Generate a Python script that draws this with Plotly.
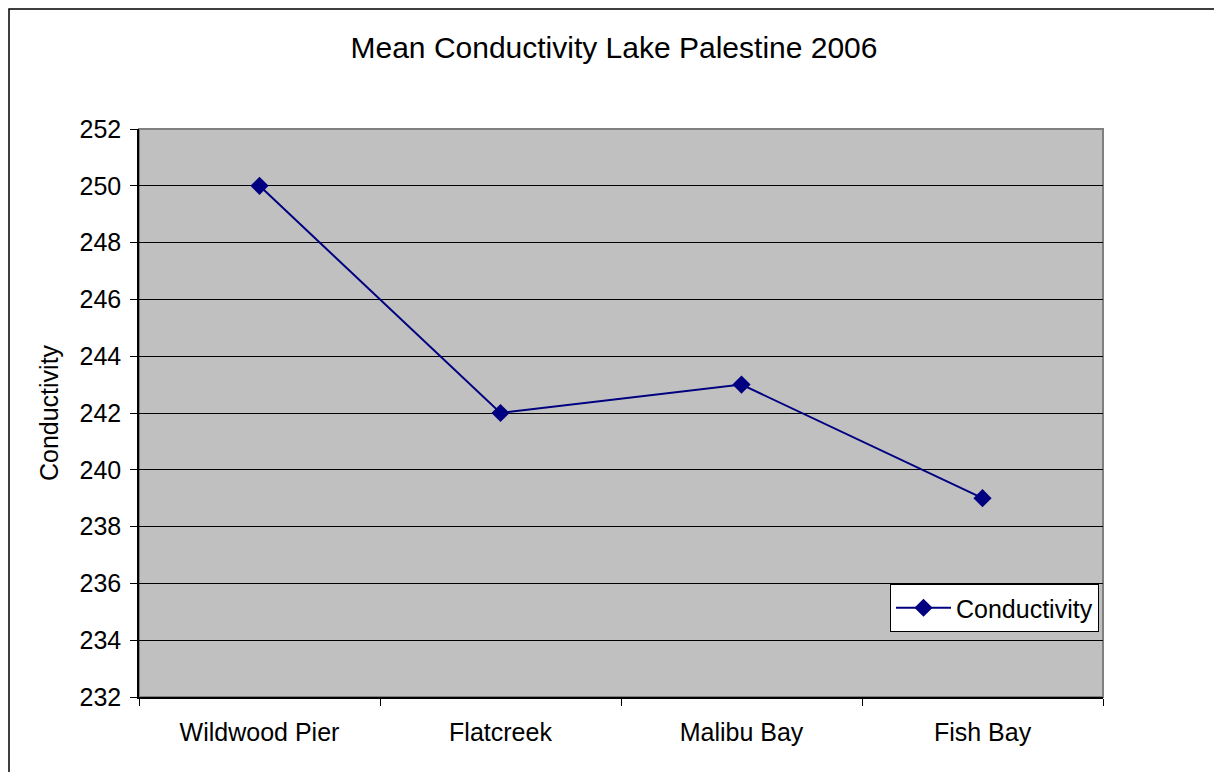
import plotly.graph_objects as go

sites = ["Wildwood Pier", "Flatcreek", "Malibu Bay", "Fish Bay"]
conductivity = [250, 242, 243, 239]
y_ticks = [232, 234, 236, 238, 240, 242, 244, 246, 248, 250, 252]

navy = "#000080"
font = "Liberation Sans, Arial, sans-serif"

# page has an 8px body margin, so the figure is 8px smaller each way
W, H = 1214, 764
L, R, T, B = 131, 119, 121, 75
pw, ph = W - L - R, H - T - B

fig = go.Figure()
fig.add_trace(go.Scatter(
    x=sites, y=conductivity, name="Conductivity",
    mode="lines+markers",
    line=dict(color=navy, width=2),
    marker=dict(symbol="diamond", size=14, color=navy),
))

# gray frame round the plot area (top/right), axes drawn black on top
fig.add_shape(type="rect", xref="paper", yref="paper", x0=0, x1=1, y0=0, y1=1,
              line=dict(color="#808080", width=2), layer="below")
# outer chart border
fig.add_shape(type="rect", xref="paper", yref="paper",
              x0=(1 - L) / pw, x1=(1211 - L) / pw,
              y0=-0.3, y1=(ph + T - 1) / ph,
              line=dict(color="black", width=1.5))

fig.update_layout(
    autosize=False,
    width=W,
    height=H,
    margin=dict(l=L, r=R, t=T, b=B, pad=0),
    paper_bgcolor="white",
    plot_bgcolor="#C0C0C0",
    font=dict(family=font, size=25, color="black"),
    title=dict(text="Mean Conductivity Lake Palestine 2006", x=(614 - 8) / W,
               xanchor="center", y=1 - 39 / H, yanchor="middle",
               font=dict(size=30)),
    showlegend=True,
    legend=dict(x=(1099 - 139) / pw, xanchor="right", y=(697 - 608) / ph, yanchor="middle",
                bgcolor="white", bordercolor="black", borderwidth=1,
                itemwidth=55, font=dict(size=25)),
    xaxis=dict(
        type="category", range=[-0.5, 3.5], tickson="boundaries",
        ticks="outside", ticklen=7, tickcolor="black",
        showline=True, linecolor="black", linewidth=1.5,
        showgrid=False, zeroline=False, ticklabelstandoff=12,
    ),
    yaxis=dict(
        range=[232, 252], tickvals=y_ticks,
        ticks="outside", ticklen=7, tickcolor="black",
        showline=True, linecolor="black", linewidth=1.5,
        gridcolor="black", gridwidth=1, zeroline=False, ticklabelstandoff=4,
        title=dict(text="Conductivity", font=dict(size=25), standoff=14),
    ),
)

fig.write_html("out.html")
